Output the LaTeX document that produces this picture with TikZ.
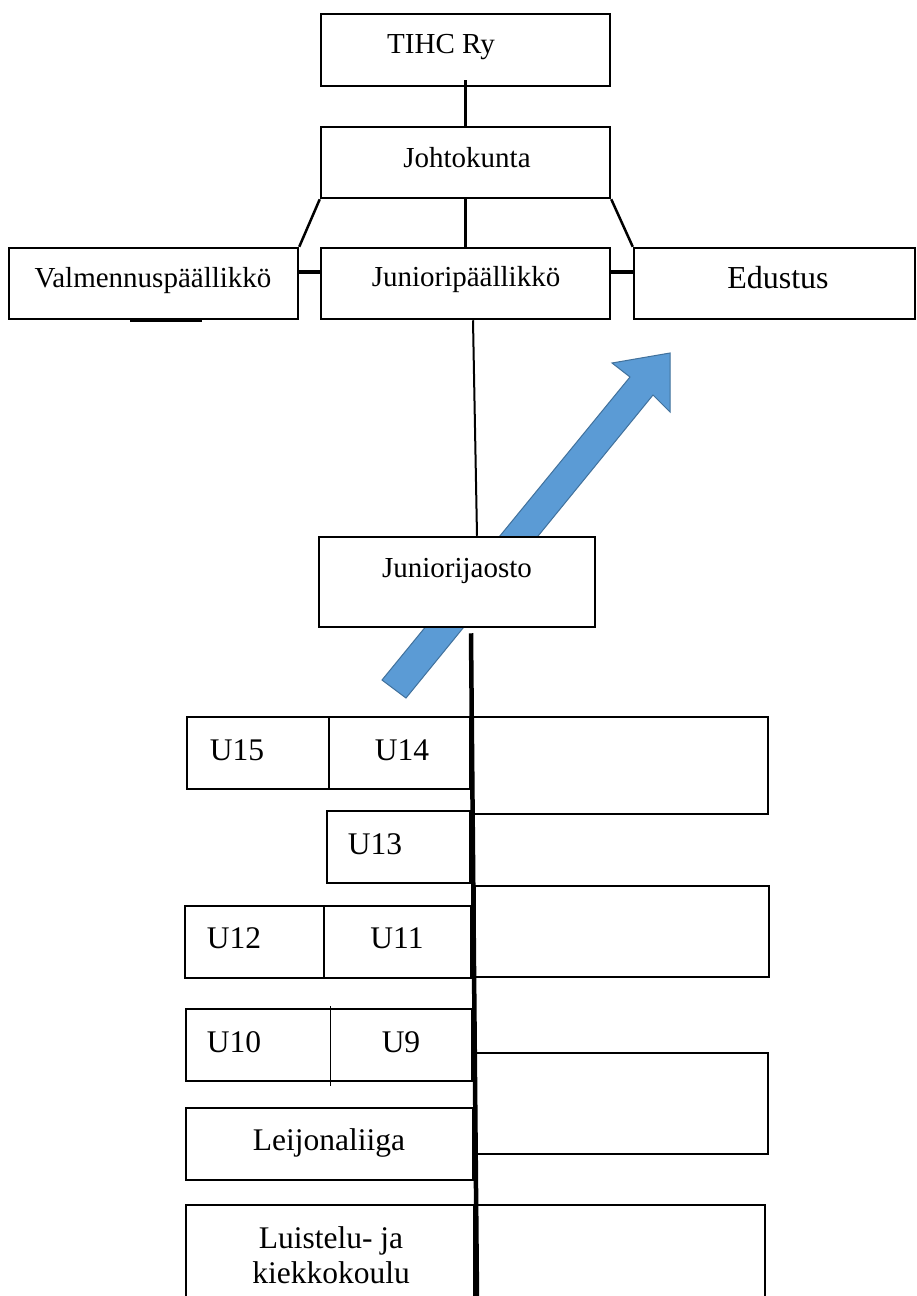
\documentclass[tikz,border=0pt]{standalone}
\usepackage{fontspec}
\setmainfont{Liberation Serif}
\definecolor{arrowfill}{HTML}{5B9BD5}
\definecolor{arrowline}{HTML}{41719C}
\begin{document}
\begin{tikzpicture}[x=1pt,y=-1pt,
  box/.style={draw, line width=2.5pt, fill=white, inner sep=0pt, rectangle},
  txt/.style={font=\fontsize{29}{34}\selectfont, inner sep=0pt, anchor=base},
  txtb/.style={font=\fontsize{31.5}{36}\selectfont, inner sep=0pt, anchor=base},
  conn/.style={line width=2.5pt},
  thickconn/.style={line width=4.5pt},
  bigarrow/.style={fill=arrowfill, draw=arrowline, line width=1pt, line join=miter}]
\useasboundingbox (0,0) rectangle (916,1296);
\clip (0,0) rectangle (916,1296);
\fill[white] (0,0) rectangle (916,1296);

% blue arrow (behind the boxes)
\filldraw[bigarrow] (382,680) -- (630,377) -- (612,363) -- (670,353) -- (670,412) -- (653,395) -- (406,698) -- cycle;

% top boxes
\node[box, minimum width=289pt, minimum height=72pt] (tihc) at (465.5,50) {};
\node[box, minimum width=289pt, minimum height=71pt] (johto) at (465.5,162.5) {};
\node[box, minimum width=289pt, minimum height=71pt] (valm) at (153.5,283.5) {};
\node[box, minimum width=289pt, minimum height=71pt] (junp) at (465.5,283.5) {};
\node[box, minimum width=281pt, minimum height=71pt] (edu) at (774.5,283.5) {};
\node[box, minimum width=276pt, minimum height=90pt] (jaosto) at (457,582) {};

% connectors top
\draw[conn] ([yshift=7pt]tihc.south) -- (johto.north);
\draw[conn] (johto.south) -- (junp.north);
\draw[conn] (johto.south west) -- (valm.north east);
\draw[conn] (johto.south east) -- (edu.north west);
\draw[line width=3.5pt] ([yshift=11.5pt]valm.east) -- ([yshift=11.5pt]junp.west);
\draw[line width=3.5pt] ([yshift=11.5pt]junp.east) -- ([yshift=11.5pt]edu.west);
\draw[line width=3.5pt] ([xshift=-23.5pt]valm.south) -- ([xshift=48.5pt]valm.south);
\draw[line width=2pt] ([xshift=7.5pt]junp.south) -- ([xshift=20pt]jaosto.north);

% lower boxes
\node[box, minimum width=142pt, minimum height=72pt] (u15) at (258,753) {};
\node[box, minimum width=141pt, minimum height=72pt] (u14) at (399.5,753) {};
\node[box, minimum width=296pt, minimum height=97pt] (r1) at (620,765.5) {};
\node[box, minimum width=143pt, minimum height=72pt] (u13) at (398.5,847) {};
\node[box, minimum width=294pt, minimum height=91pt] (r2) at (622,931.5) {};
\node[box, minimum width=139pt, minimum height=72pt] (u12) at (254.5,942) {};
\node[box, minimum width=147pt, minimum height=72pt] (u11) at (397.5,942) {};
\node[box, minimum width=286pt, minimum height=72pt] (u109) at (329,1045) {};
\draw[line width=1pt] (330,1006) -- (330,1086);
\node[box, minimum width=292pt, minimum height=101pt] (r3) at (622,1103.5) {};
\node[box, minimum width=287pt, minimum height=72pt] (leij) at (329.5,1144) {};
\node[box, minimum width=288pt, minimum height=100pt] (lui) at (330,1255) {};
\node[box, minimum width=289pt, minimum height=100pt] (r4) at (620.5,1255) {};

% central thick line
\coordinate (bot) at (477,1300);
\draw[thickconn] ([xshift=14pt,yshift=-5pt]jaosto.south) -- (bot);

% texts
\node[txt] (t-tihc) at (441,53) {TIHC Ry};
\node[txt] (t-johto) at (467,167) {Johtokunta};
\node[txt] (t-valm) at (153,287) {Valmennuspäällikkö};
\node[txt] (t-junp) at (466,286) {Junioripäällikkö};
\node[font=\fontsize{32}{36}\selectfont, inner sep=0pt, anchor=base] (t-edu) at (778,288) {Edustus};
\node[txt] (t-jaosto) at (457,577) {Juniorijaosto};
\node[txtb] (t-u15) at (237,760) {U15};
\node[txtb] (t-u14) at (402,760) {U14};
\node[txtb] (t-u13) at (375,854) {U13};
\node[txtb] (t-u12) at (234,948) {U12};
\node[txtb] (t-u11) at (397,948) {U11};
\node[txtb] (t-u10) at (234,1052) {U10};
\node[txtb] (t-u9) at (401,1052) {U9};
\node[txtb] (t-leij) at (329,1150) {Leijonaliiga};
\node[txtb] (t-lui1) at (331,1248) {Luistelu- ja};
\node[txtb] (t-lui2) at (331,1283) {kiekkokoulu};
\end{tikzpicture}
\end{document}
